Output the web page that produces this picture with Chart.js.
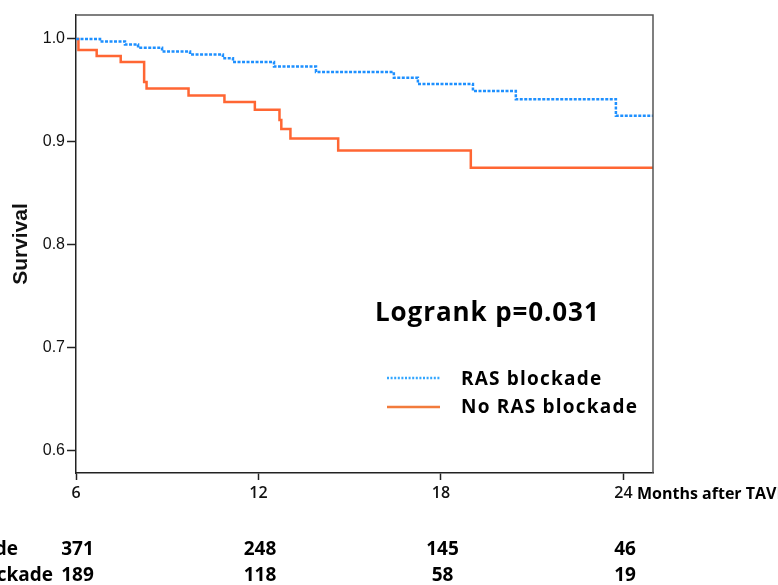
<!DOCTYPE html>
<html><head><meta charset="utf-8">
<script src="https://cdn.jsdelivr.net/npm/chart.js@4.4.0/dist/chart.umd.min.js"></script>
<style>html,body{margin:0;padding:0;background:#fff;overflow:hidden}#wrap{width:778px;height:585px;position:relative}</style>
</head><body><div id="wrap"><canvas id="c" width="778" height="585"></canvas></div>
<script>
// Kaplan-Meier step data (month, survival)
const rasMonths = [6, 6.79, 7.61, 8.04, 8.83, 9.75, 10.83, 11.16, 12.51, 13.89, 16.45, 17.24, 19.05, 20.46, 23.75, 24.97];
const rasSurv   = [1.0, 0.9976, 0.9947, 0.9915, 0.9879, 0.985, 0.9813, 0.9777, 0.9733, 0.968, 0.9624, 0.9563, 0.9495, 0.9415, 0.9255, 0.9255];
const noMonths  = [6, 6.08, 6.68, 7.47, 8.24, 8.32, 9.70, 10.88, 11.88, 12.69, 12.75, 13.05, 14.62, 18.98, 24.97];
const noSurv    = [1.0, 0.9893, 0.9835, 0.9777, 0.9583, 0.952, 0.9451, 0.9388, 0.9314, 0.9214, 0.9126, 0.9034, 0.8917, 0.875, 0.875];
// axis ticks
const xTicks = [6, 12, 18, 24];
const yTicks = [0.6, 0.7, 0.8, 0.9, 1.0];
// numbers at risk
const riskMonths = [6, 12, 18, 24];
const riskRAS = [371, 248, 145, 46];
const riskNo  = [189, 118, 58, 19];
const seriesNames = ['RAS blockade', 'No RAS blockade'];
const pText = 'Logrank p=0.031';
const xTitle = 'Months after TAVI';
const yTitle = 'Survival';

const BLUE = '#1E90FF', ORANGE = '#FF6633';
const BOLD = '"Open Sans", "Noto Sans", sans-serif';

const extras = {
  id: 'extras',
  afterDatasetsDraw(chart) {
    const {ctx, chartArea: a} = chart;
    ctx.save();
    ctx.strokeStyle = '#555'; ctx.lineWidth = 1.5;
    ctx.beginPath();
    ctx.moveTo(a.left, a.top); ctx.lineTo(a.right, a.top); ctx.lineTo(a.right, a.bottom);
    ctx.stroke();
    ctx.restore();
  },
  afterDraw(chart) {
    const {ctx} = chart;
    const xs = chart.scales.x;
    ctx.save();
    // logrank
    ctx.fillStyle = '#000';
    ctx.textBaseline = 'middle';
    ctx.textAlign = 'left';
    ctx.font = 'bold 26px ' + BOLD;
    ctx.letterSpacing = '0.9px';
    ctx.fillText(pText, 375, 314);
    // legend
    ctx.lineWidth = 2.5;
    ctx.strokeStyle = '#33A6FF'; ctx.setLineDash([2, 1.6]);
    ctx.beginPath(); ctx.moveTo(387, 378); ctx.lineTo(440, 378); ctx.stroke();
    ctx.setLineDash([]);
    ctx.strokeStyle = '#F27B3C';
    ctx.beginPath(); ctx.moveTo(387, 407); ctx.lineTo(440, 407); ctx.stroke();
    ctx.font = 'bold 19px ' + BOLD;
    ctx.letterSpacing = '1.2px';
    ctx.fillText(seriesNames[0], 461, 380);
    ctx.fillText(seriesNames[1], 461, 408);
    ctx.letterSpacing = '0px';
    // x title
    ctx.font = 'bold 16px ' + BOLD;
    ctx.fillText(xTitle, 637, 494);
    // numbers at risk
    ctx.font = 'bold 19px ' + BOLD;
    ctx.textAlign = 'center';
    riskMonths.forEach((m, i) => {
      const px = xs.getPixelForValue(m) + 1.5;
      ctx.fillText(String(riskRAS[i]), px, 550);
      ctx.fillText(String(riskNo[i]), px, 576);
    });
    ctx.textAlign = 'right';
    ctx.fillText(seriesNames[0], 18, 550);
    ctx.fillText(seriesNames[1], 53, 576);
    ctx.restore();
  }
};

new Chart(document.getElementById('c'), {
  type: 'line',
  data: {
    datasets: [
      { label: seriesNames[0], data: rasMonths.map((m, i) => ({x: m, y: rasSurv[i]})),
        stepped: 'before', borderColor: BLUE, borderWidth: 2.5, borderDash: [3, 1.5],
        pointRadius: 0, fill: false },
      { label: seriesNames[1], data: noMonths.map((m, i) => ({x: m, y: noSurv[i]})),
        stepped: 'before', borderColor: ORANGE, borderWidth: 2.5,
        pointRadius: 0, fill: false }
    ]
  },
  options: {
    responsive: false, animation: false, devicePixelRatio: 1,
    layout: { padding: { left: 0, top: 15, right: 125, bottom: 0 } },
    plugins: { legend: { display: false }, tooltip: { enabled: false } },
    scales: {
      x: {
        type: 'linear', min: 6, max: 24.97,
        afterBuildTicks: s => { s.ticks = xTicks.map(v => ({value: v})); },
        afterFit: s => { s.height = 112; },
        grid: { drawOnChartArea: false, drawTicks: true, tickLength: 7, tickColor: '#222', tickWidth: 1.5 },
        border: { display: true, color: '#222', width: 1.5 },
        ticks: { font: { family: BOLD, size: 16, weight: '600' }, color: '#111', padding: 4,
                 maxRotation: 0, autoSkip: false, callback: v => String(v) }
      },
      y: {
        min: 0.5786, max: 1.0233,
        afterBuildTicks: s => { s.ticks = yTicks.map(v => ({value: v})); },
        afterFit: s => { s.width = 76; },
        grid: { drawOnChartArea: false, drawTicks: true, tickLength: 9, tickColor: '#222', tickWidth: 1.5 },
        border: { display: true, color: '#222', width: 1.5 },
        ticks: { font: { family: '"Liberation Sans", Arial, sans-serif', size: 16 }, color: '#111', padding: 2,
                 callback: v => Number(v).toFixed(1) },
        title: { display: true, text: yTitle, color: '#111',
                 font: { family: '"Liberation Sans", Arial, sans-serif', size: 21, weight: 'bold' },
                 padding: { top: 9, bottom: 0 } }
      }
    }
  },
  plugins: [extras]
});
</script>
</body></html>
